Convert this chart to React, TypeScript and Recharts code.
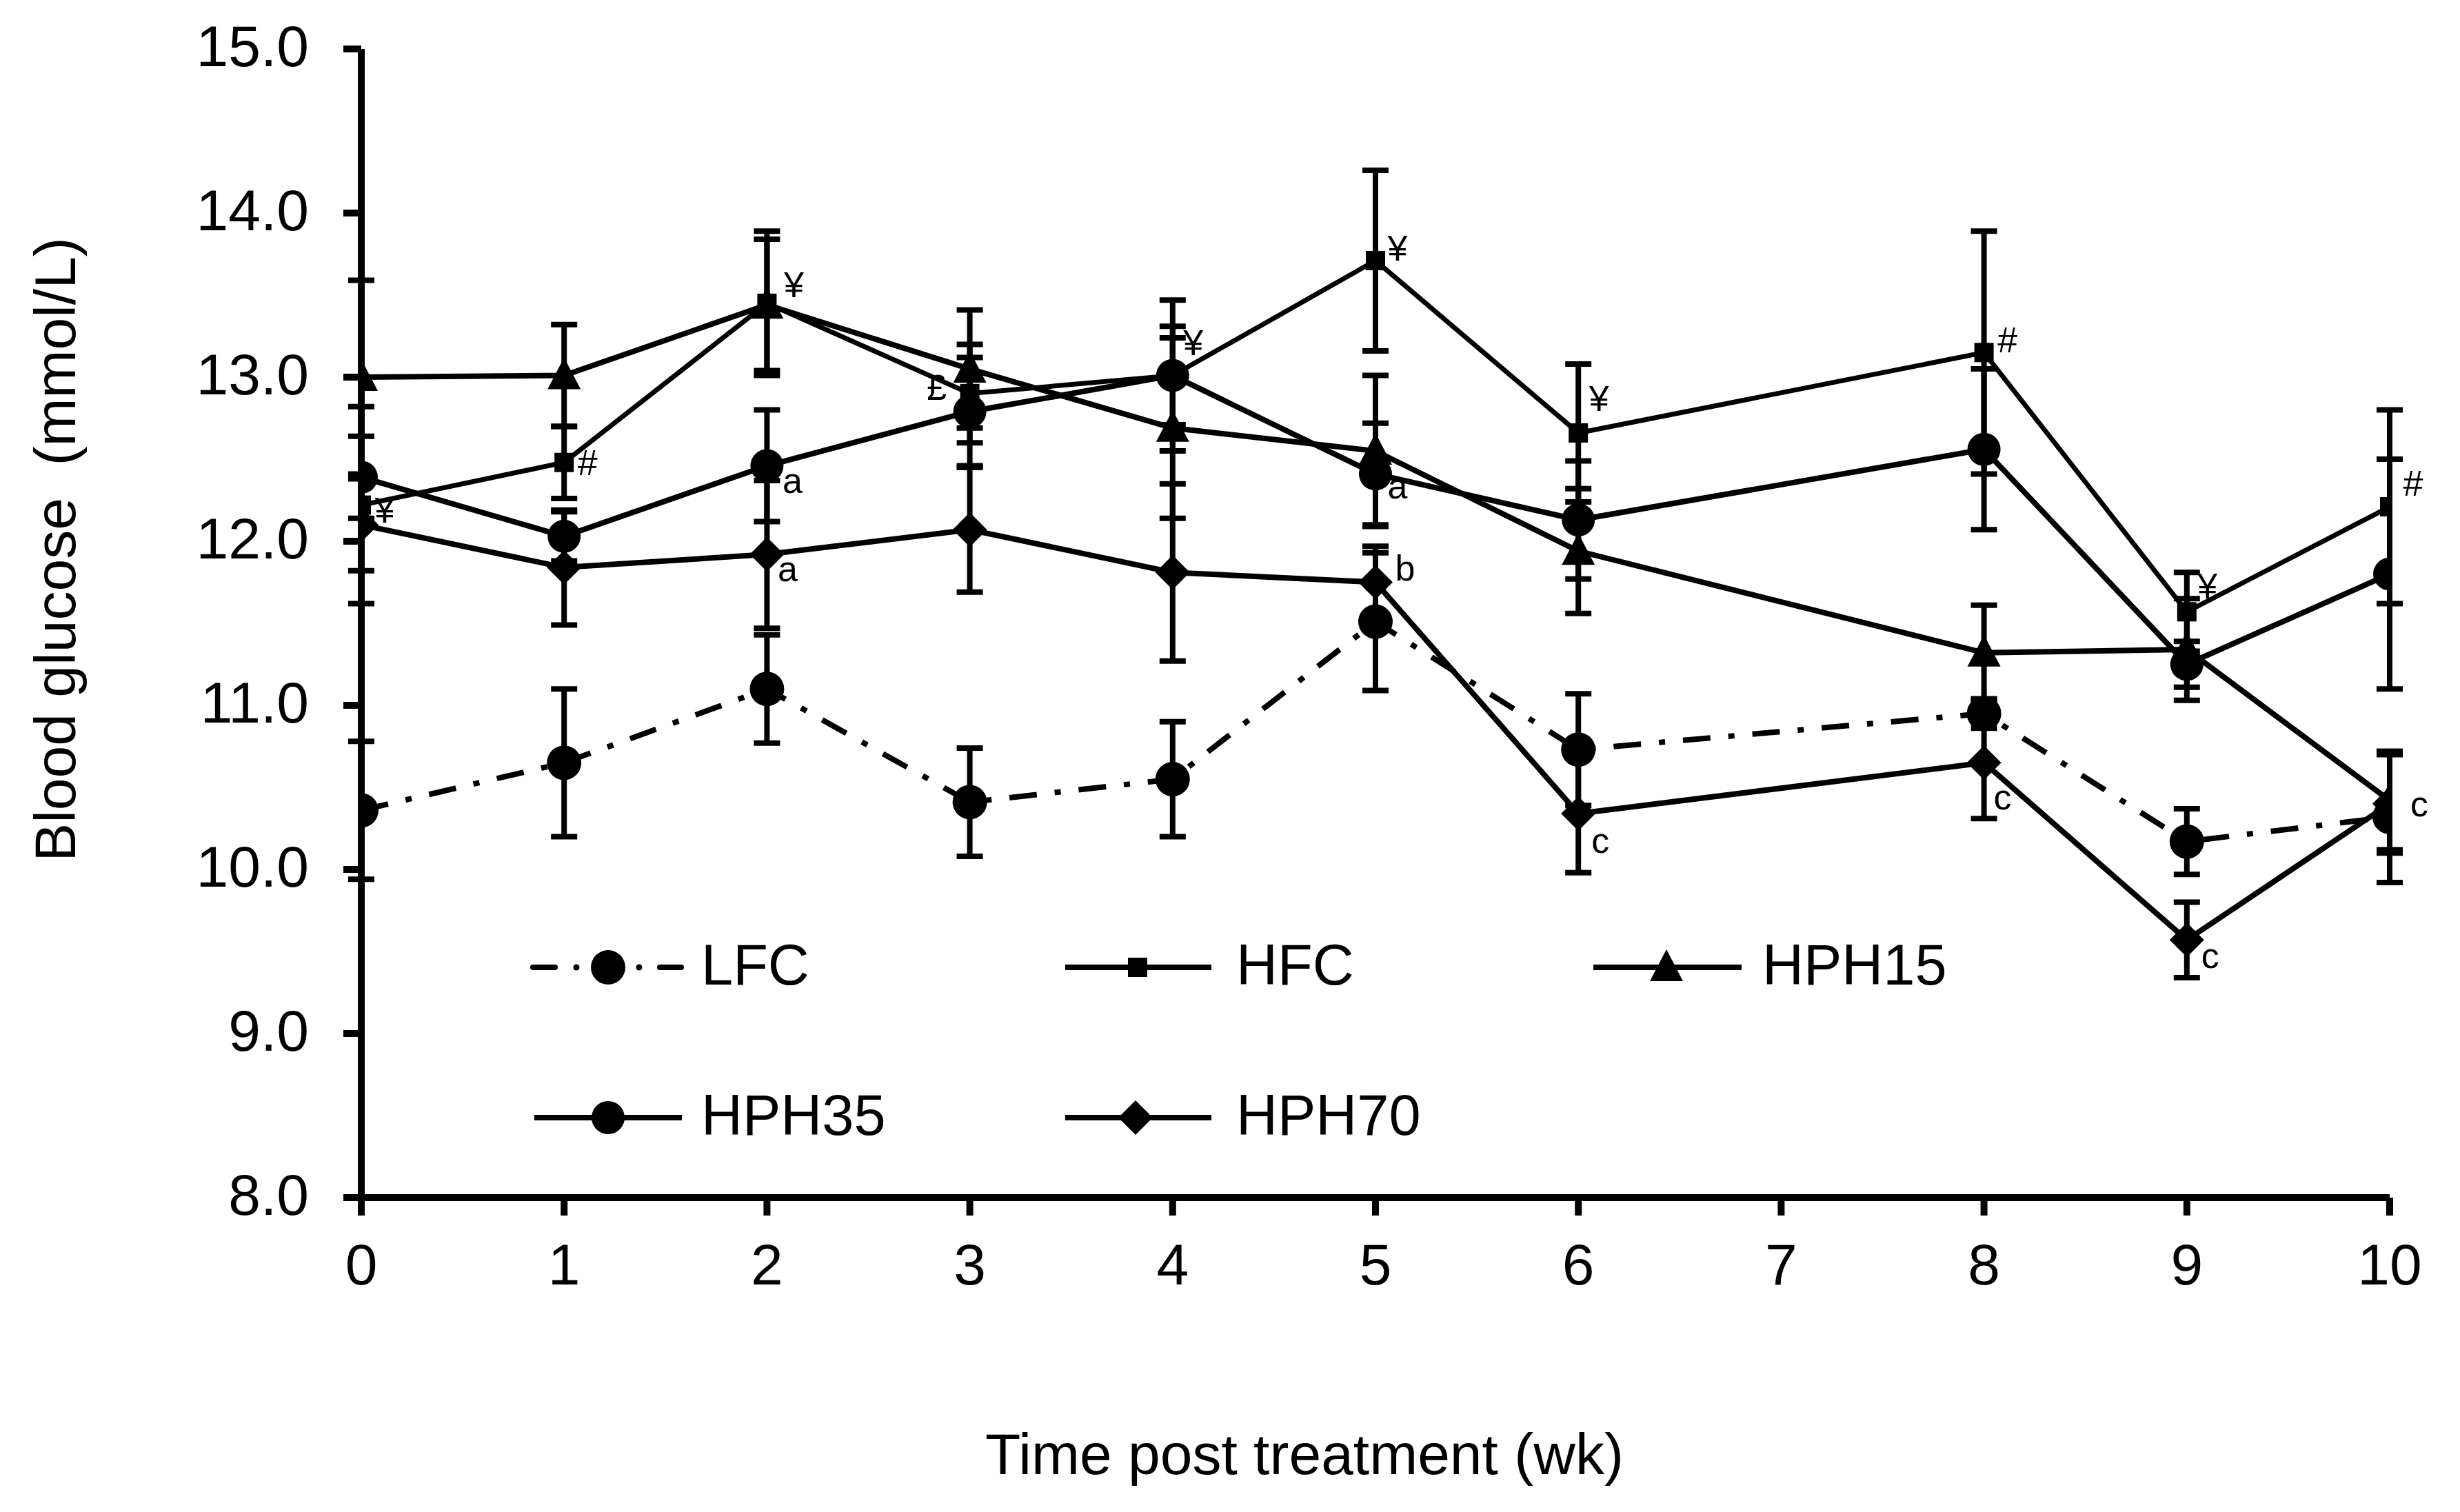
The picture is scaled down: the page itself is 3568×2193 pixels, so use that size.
import React from 'react';
import { LineChart, Line, XAxis, YAxis, ErrorBar, LabelList, Customized } from 'recharts';

const weeks = [0, 1, 2, 3, 4, 5, 6, 8, 9, 10];
const lfc = [10.36, 10.65, 11.1, 10.41, 10.55, 11.51, 10.73, 10.95, 10.17, 10.32];
const lfcErr = [0.42, 0.45, 0.33, 0.33, 0.35, 0.42, 0.34, 0.09, 0.2, 0.4];
const hfc = [12.22, 12.48, 13.45, 12.9, 13.01, 13.71, 12.66, 13.15, 11.57, 12.21];
const hfcErr = [0.6, 0.22, 0.44, 0.3, 0.3, 0.55, 0.42, 0.74, 0.24, 0.59];
const hph15 = [13.0, 13.01, 13.44, 13.05, 12.69, 12.55, 11.94, 11.32, 11.34, 10.42];
const hph15Err = [0.59, 0.31, 0.4, 0.36, 0.55, 0.46, 0.38, 0.29, 0.31, 0.3];
const hph35 = [12.39, 12.03, 12.46, 12.79, 13.01, 12.41, 12.13, 12.56, 11.25, 11.8];
const hph35Err = [0.25, 0.15, 0.34, 0.33, 0.46, 0.31, 0.36, 0.49, 0.14, 0.7];
const hph70 = [12.1, 11.84, 11.92, 12.07, 11.81, 11.75, 10.34, 10.65, 9.57, 10.4];
const hph70Err = [0.28, 0.35, 0.45, 0.38, 0.54, 0.22, 0.36, 0.34, 0.23, 0.3];

const hfcMarks = ['¥', '#', '¥', '£', '¥', '¥', '¥', '#', '¥', '#'];
const hph35Marks = ['', '', 'a', '', '', 'a', '', '', '', ''];
const hph70Marks = ['', '', 'a', '', '', 'b', 'c', 'c', 'c', 'c'];

const xTicks = [0, 1, 2, 3, 4, 5, 6, 7, 8, 9, 10];
const yTicks = [8, 9, 10, 11, 12, 13, 14, 15];

const xTitle = 'Time post treatment (wk)';
const yTitle = 'Blood glucose\u00A0 (mmol/L)';

const data = weeks.map((w, i) => ({
  week: w,
  LFC: lfc[i], LFCErr: lfcErr[i],
  HFC: hfc[i], HFCErr: hfcErr[i], hfcMark: hfcMarks[i],
  HPH15: hph15[i], HPH15Err: hph15Err[i],
  HPH35: hph35[i], HPH35Err: hph35Err[i], hph35Mark: hph35Marks[i],
  HPH70: hph70[i], HPH70Err: hph70Err[i], hph70Mark: hph70Marks[i],
}));

const FONT = '"Liberation Sans", Arial, Helvetica, sans-serif';
const W = 3568;
const H = 2193;
const LEFT = 524;
const STEP = 294.1;

// offsets (px) of annotation marks relative to their point, by index
const hfcOff: number[][] = [[34, 7], [34, 0], [39, -27], [-48, -9], [30, -48], [32, -18], [30, -50], [34, -18], [30, -37], [34, -34]];
const hph35Off: number[][] = [[34, 20], [34, 20], [37, 21], [34, 20], [34, 20], [32, 18], [34, 20], [34, 20], [34, 20], [34, 20]];
const hph70Off: number[][] = [[34, 20], [34, 20], [30, 21], [34, 20], [34, 20], [43, -21], [32, 39], [27, 50], [34, 23], [43, 0]];

const markRenderer = (offs: number[][]) => (p: any) => {
  const vx = p.x ?? p.viewBox?.x;
  const vy = p.y ?? p.viewBox?.y;
  const value = p.value;
  if (!value || vx == null || vy == null) return null;
  let idx = p.index;
  if (idx == null) {
    const wk = Math.round((vx - LEFT) / STEP);
    idx = weeks.indexOf(wk);
  }
  const off = offs[idx] || [34, 0];
  return (
    <text x={vx + off[0]} y={vy + off[1]} textAnchor="middle" dominantBaseline="central"
      fontSize={52} fontFamily={FONT} fill="#000">{value}</text>
  );
};

const circleDot = (r: number) => (p: any) => {
  if (p.cx == null || p.cy == null) return <g key={p.index} />;
  return <circle key={p.index} cx={p.cx} cy={p.cy} r={r} fill="#000" />;
};
const squareDot = (p: any) => {
  if (p.cx == null || p.cy == null) return <g key={p.index} />;
  return <rect key={p.index} x={p.cx - 14} y={p.cy - 14} width={28} height={28} fill="#000" />;
};
const triPts = (cx: number, cy: number) => `${cx},${cy - 26} ${cx - 24},${cy + 20} ${cx + 24},${cy + 20}`;
const triangleDot = (p: any) => {
  if (p.cx == null || p.cy == null) return <g key={p.index} />;
  return <polygon key={p.index} points={triPts(p.cx, p.cy)} fill="#000" />;
};
const diaPts = (cx: number, cy: number) => `${cx},${cy - 25} ${cx + 25},${cy} ${cx},${cy + 25} ${cx - 25},${cy}`;
const diamondDot = (p: any) => {
  if (p.cx == null || p.cy == null) return <g key={p.index} />;
  return <polygon key={p.index} points={diaPts(p.cx, p.cy)} fill="#000" />;
};

const XTick = (p: any) => (
  <text x={p.x} y={p.y + 60} textAnchor="middle" fontSize={84} fontFamily={FONT} fill="#000">
    {p.payload.value}
  </text>
);
const YTick = (p: any) => (
  <text x={p.x} y={p.y + 25} textAnchor="end" fontSize={84} fontFamily={FONT} fill="#000">
    {Number(p.payload.value).toFixed(1)}
  </text>
);

const Overlay = () => {
  const r1 = 1403;
  const r2 = 1621;
  const txt = { fontSize: 83, fontFamily: FONT, fill: '#000' } as any;
  return (
    <g>
      {/* legend row 1 */}
      <line x1={773} y1={r1} x2={805} y2={r1} stroke="#000" strokeWidth={8} strokeLinecap="round" />
      <circle cx={836} cy={r1} r={4.5} fill="#000" />
      <circle cx={882} cy={r1} r={25} fill="#000" />
      <circle cx={927} cy={r1} r={4.5} fill="#000" />
      <line x1={957} y1={r1} x2={988} y2={r1} stroke="#000" strokeWidth={8} strokeLinecap="round" />
      <text x={1017} y={r1 + 25} {...txt}>LFC</text>

      <line x1={1545} y1={r1} x2={1757} y2={r1} stroke="#000" strokeWidth={8} />
      <rect x={1636} y={r1 - 14} width={28} height={28} fill="#000" />
      <text x={1793} y={r1 + 25} {...txt}>HFC</text>

      <line x1={2311} y1={r1} x2={2526} y2={r1} stroke="#000" strokeWidth={8} />
      <polygon points={triPts(2417, r1)} fill="#000" />
      <text x={2556} y={r1 + 25} {...txt}>HPH15</text>

      {/* legend row 2 */}
      <line x1={775} y1={r2} x2={989} y2={r2} stroke="#000" strokeWidth={8} />
      <circle cx={882} cy={r2} r={24} fill="#000" />
      <text x={1017} y={r2 + 25} {...txt}>HPH35</text>

      <line x1={1545} y1={r2} x2={1757} y2={r2} stroke="#000" strokeWidth={8} />
      <polygon points={diaPts(1647, r2)} fill="#000" />
      <text x={1793} y={r2 + 25} {...txt}>HPH70</text>

      {/* axis titles */}
      <text x={1892} y={2138} textAnchor="middle" {...txt} fontSize={84}>{xTitle}</text>
      <text transform="translate(109, 797) rotate(-90)" x={0} y={0} textAnchor="middle" {...txt} fontSize={84}>{yTitle}</text>
    </g>
  );
};

export default function App() {
  const axisLine = { stroke: '#000', strokeWidth: 10 };
  const errProps = { width: 19, strokeWidth: 8, stroke: '#000', direction: 'y' as const };
  return (
    <div style={{ position: 'absolute', left: 0, top: 0, width: W, height: H, background: '#fff' }}>
      <LineChart width={W} height={H} data={data} margin={{ top: 71, right: 102, bottom: 0, left: 0 }}>
        <XAxis
          dataKey="week"
          type="number"
          domain={[0, 10]}
          ticks={xTicks}
          interval={0}
          height={456}
          tick={XTick}
          tickSize={26}
          tickMargin={40}
          axisLine={axisLine}
          tickLine={axisLine}
          allowDataOverflow
        />
        <YAxis
          type="number"
          domain={[8, 15]}
          ticks={yTicks}
          interval={0}
          width={524}
          tick={YTick}
          tickSize={26}
          tickMargin={50}
          axisLine={axisLine}
          tickLine={axisLine}
          allowDataOverflow
        />
        <Line dataKey="LFC" type="linear" stroke="#000" strokeWidth={8} strokeDasharray="40 26 9 26"
          dot={circleDot(25)} activeDot={false} isAnimationActive={false}>
          <ErrorBar dataKey="LFCErr" {...errProps} />
        </Line>
        <Line dataKey="HPH70" type="linear" stroke="#000" strokeWidth={8}
          dot={diamondDot} activeDot={false} isAnimationActive={false}>
          <ErrorBar dataKey="HPH70Err" {...errProps} />
          <LabelList dataKey="hph70Mark" content={markRenderer(hph70Off)} />
        </Line>
        <Line dataKey="HPH35" type="linear" stroke="#000" strokeWidth={8}
          dot={circleDot(24)} activeDot={false} isAnimationActive={false}>
          <ErrorBar dataKey="HPH35Err" {...errProps} />
          <LabelList dataKey="hph35Mark" content={markRenderer(hph35Off)} />
        </Line>
        <Line dataKey="HPH15" type="linear" stroke="#000" strokeWidth={8}
          dot={triangleDot} activeDot={false} isAnimationActive={false}>
          <ErrorBar dataKey="HPH15Err" {...errProps} />
        </Line>
        <Line dataKey="HFC" type="linear" stroke="#000" strokeWidth={7}
          dot={squareDot} activeDot={false} isAnimationActive={false}>
          <ErrorBar dataKey="HFCErr" {...errProps} />
          <LabelList dataKey="hfcMark" content={markRenderer(hfcOff)} />
        </Line>
        <Customized component={Overlay} />
      </LineChart>
    </div>
  );
}
